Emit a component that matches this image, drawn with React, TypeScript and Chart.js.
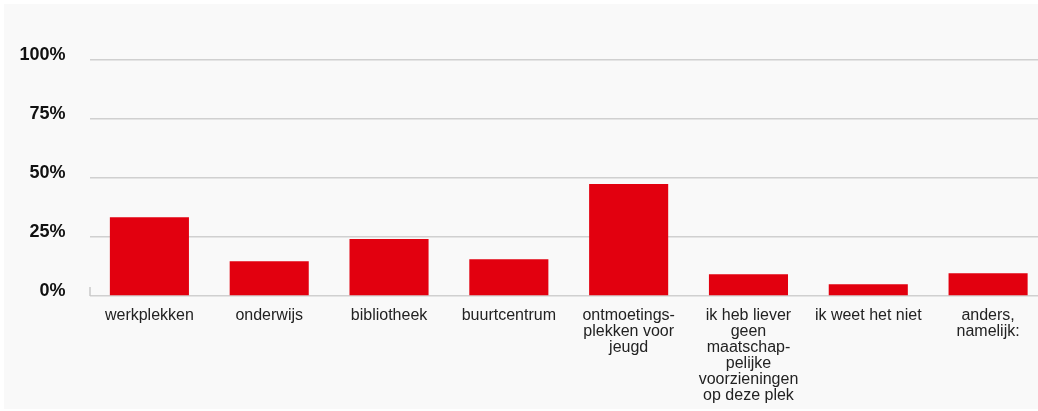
import React, { useEffect, useRef } from "react";
import { Chart, registerables } from "chart.js";

Chart.register(...registerables);

const categories: (string | string[])[] = [
  "werkplekken",
  "onderwijs",
  "bibliotheek",
  "buurtcentrum",
  ["ontmoetings-", "plekken voor", "jeugd"],
  ["ik heb liever", "geen", "maatschap-", "pelijke", "voorzieningen", "op deze plek"],
  "ik weet het niet",
  ["anders,", "namelijk:"],
];

const values: number[] = [33.4, 14.7, 24.1, 15.6, 47.5, 9.2, 5.0, 9.6];

const yTicks: number[] = [0, 25, 50, 75, 100];

const FONT = '"Liberation Sans", Arial, Helvetica, sans-serif';

const axisTickPlugin = {
  id: "axisTick",
  afterDraw(chart: any) {
    const { ctx, chartArea, scales } = chart;
    const y0 = scales.y.getPixelForValue(0);
    ctx.save();
    ctx.strokeStyle = "#c8c8c8";
    ctx.lineWidth = 1.5;
    ctx.beginPath();
    ctx.moveTo(chartArea.left + 0.5, y0 - 9);
    ctx.lineTo(chartArea.left + 0.5, y0);
    ctx.stroke();
    ctx.restore();
  },
};

export default function App() {
  const ref = useRef<HTMLCanvasElement | null>(null);

  useEffect(() => {
    if (!ref.current) return;
    const chart = new Chart(ref.current, {
      type: "bar",
      data: {
        labels: categories,
        datasets: [
          {
            data: values,
            backgroundColor: "#e2000f",
            borderWidth: 0,
            barPercentage: 0.66,
            categoryPercentage: 1,
          },
        ],
      },
      options: {
        responsive: false,
        animation: false,
        devicePixelRatio: 1,
        layout: { padding: { top: 60, right: 0, bottom: 0, left: 0 } },
        plugins: {
          legend: { display: false },
          tooltip: { enabled: false },
        },
        scales: {
          x: {
            grid: { display: false, drawTicks: false },
            border: { display: false },
            ticks: {
              color: "#222",
              font: { family: FONT, size: 16, lineHeight: 1 },
              padding: 12,
              maxRotation: 0,
              autoSkip: false,
            },
            afterFit: (scale: any) => {
              scale.height = 115;
            },
          },
          y: {
            min: 0,
            max: 100,
            afterBuildTicks: (scale: any) => {
              scale.ticks = yTicks.map((v) => ({ value: v }));
            },
            grid: {
              color: "#d0d0d0",
              lineWidth: 1.5,
              drawTicks: false,
            },
            border: { display: false },
            ticks: {
              color: "#111",
              font: { family: FONT, size: 18, weight: "bold" },
              padding: 24,
              labelOffset: -5,
              callback: (v: any) => v + "%",
            },
            afterFit: (scale: any) => {
              scale.width = 89.5;
            },
          },
        },
      },
      plugins: [axisTickPlugin],
    });
    return () => chart.destroy();
  }, []);

  return (
    <div
      style={{
        position: "fixed",
        left: 0,
        top: 0,
        width: 1038,
        height: 411,
        overflow: "hidden",
        background: "#ffffff",
      }}
    >
      <div
        style={{
          position: "absolute",
          left: 4,
          top: 4,
          width: 1034,
          height: 405,
          background: "#f9f9f9",
        }}
      />
      <canvas
        ref={ref}
        width={1048}
        height={411}
        style={{ position: "absolute", left: 0, top: 0, width: 1048, height: 411 }}
      />
    </div>
  );
}
